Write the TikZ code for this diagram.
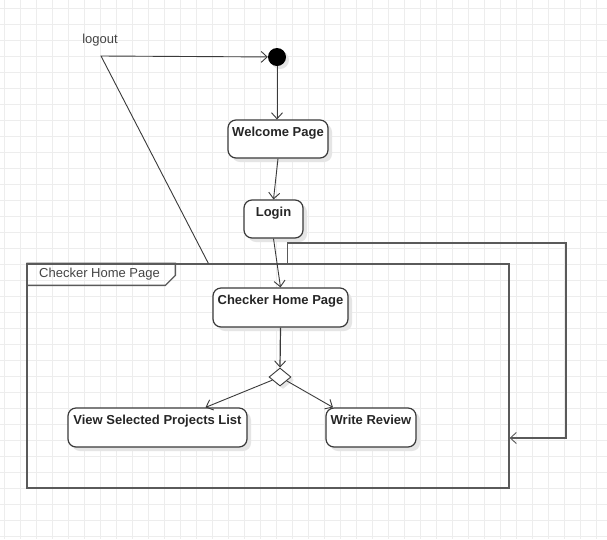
\documentclass[tikz,border=0pt]{standalone}
\usepackage{fontspec}
\setmainfont{Liberation Sans}
\usetikzlibrary{arrows.meta,shapes.geometric,shadows}
\definecolor{ln}{HTML}{3A3A3A}
\definecolor{fr}{HTML}{5A5A5A}
\definecolor{gridc}{HTML}{EDEDED}
\definecolor{txt}{HTML}{444444}
\tikzset{
  x=1pt, y=-1pt,
  statebox/.style={draw=ln, line width=1.2pt, rounded corners=8pt, fill=white,
    font=\fontsize{13}{15}\selectfont\bfseries, text=black!85,
    inner xsep=0pt, inner ysep=0pt, text height=16.5pt, text depth=21.5pt,
    drop shadow={shadow xshift=4pt, shadow yshift=-4pt, fill=black!10, opacity=1}},
  flow/.style={draw=ln, line width=0.9pt, -{Straight Barb[length=6pt,width=11pt,line width=0.9pt]}},
  loopflow/.style={draw=fr, line width=1.3pt, -{Straight Barb[length=6pt,width=11pt,line width=0.9pt]}},
  frameline/.style={draw=fr, line width=1.3pt},
  lbl/.style={font=\fontsize{13}{15}\selectfont, text=txt, inner sep=0pt}
}
\begin{document}
\begin{tikzpicture}
\useasboundingbox (0,0) rectangle (607,539);
\fill[white] (0,0) rectangle (607,539);
% background grid
\foreach \gx in {4.5,20.5,...,600} \draw[gridc, line width=0.8pt] (\gx,0) -- (\gx,539);
\foreach \gy in {8.5,24.5,...,539} \draw[gridc, line width=0.8pt] (0,\gy) -- (607,\gy);

% frame
\node[frameline, rectangle, minimum width=482pt, minimum height=224pt, inner sep=0pt] (frame) at (268,376) {};
\draw[frameline] (frame.north west) -- ++(149,0) -- ++(0,12) -- ++(-10,10) -- ++(-139,0);
\node[lbl, anchor=west] (tab) at (39,274.5) {Checker Home Page};

% start
\node[circle, fill=black, minimum size=18pt, inner sep=0pt,
  drop shadow={shadow xshift=3pt, shadow yshift=-3pt, fill=black!10, opacity=1}] (start) at (277,57) {};
\node[lbl] (logout) at (100,40.5) {logout};
\coordinate (lg) at (101,56);

% states
\node[statebox, minimum width=100pt] (welcome) at (278,139) {Welcome Page};
\node[statebox, minimum width=59pt] (login) at (273.5,219) {Login};
\node[statebox, minimum width=135pt, text depth=22.5pt] (chp) at (280.5,307.5) {Checker Home Page};
\node[diamond, draw=ln, line width=0.9pt, fill=white, minimum width=22pt, minimum height=18pt, inner sep=0pt, aspect=1.2,
  drop shadow={shadow xshift=3pt, shadow yshift=-3pt, fill=black!10, opacity=1}] (dec) at (280,377) {};
\node[statebox, minimum width=179pt, text depth=22.5pt] (vspl) at (157.5,427.5) {View Selected Projects List};
\node[statebox, minimum width=90pt, text depth=22.5pt] (wr) at (371,427.5) {Write Review};

% connectors
\draw[flow] (start) -- (start.south |- welcome.north);
\draw[flow] (welcome.south) -- (login.north);
\draw[flow] (login.south) -- (chp.north);
\draw[flow, line width=1.2pt] (chp.south) -- (dec.north);
\draw[flow] (dec) -- ([xshift=48pt]vspl.north);
\draw[flow] (dec) -- ([xshift=-38pt]wr.north);
\draw[flow] ([xshift=182pt]frame.north west) -- (lg) -- (start);
\coordinate (loopc) at (566,243);
\draw[loopflow] ([xshift=261pt]frame.north west) |- (loopc) |- ([yshift=-62pt]frame.east);
\end{tikzpicture}
\end{document}
